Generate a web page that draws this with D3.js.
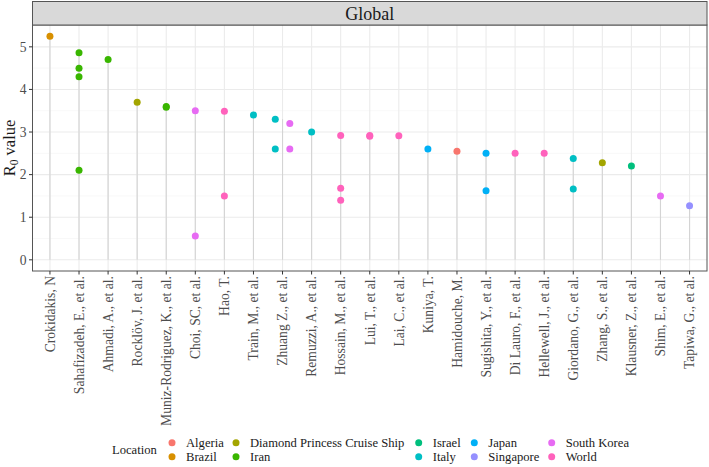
<!DOCTYPE html>
<html><head><meta charset="utf-8">
<script src="https://cdn.jsdelivr.net/npm/d3@7"></script>
<style>body{margin:0;background:#fff} text{font-family:'Liberation Serif','Times New Roman',Times,serif}</style>
</head><body><svg id="c" width="709" height="467"></svg>
<script>
const authors = ["Crokidakis, N","Sahafizadeh, E., et al.","Ahmadi, A., et al.","Rocklöv, J. et al.","Muniz-Rodriguez, K., et al.","Choi, SC, et al.","Hao, T.","Train, M., et al.","Zhuang Z., et al.","Remuzzi, A., et al.","Hossain, M., et al.","Lui, T., et al.","Lai, C., et al.","Kuniya, T.","Hamidouche, M.","Sugishita, Y., et al.","Di Lauro, F., et al.","Hellewell, J., et al.","Giordano, G., et al.","Zhang, S., et al.","Klausner, Z., et al.","Shim, E., et al.","Tapiwa, G., et al."];
const locations = ["Algeria","Brazil","Diamond Princess Cruise Ship","Iran","Israel","Italy","Japan","Singapore","South Korea","World"];
const locationColors = ["#F8766D","#D89000","#A3A500","#39B600","#00BF7D","#00BFC4","#00B0F6","#9590FF","#E76BF3","#FF62BC"];
const ptAuthor = [0,1,1,1,1,2,3,4,4,5,5,6,6,7,8,8,8,8,9,10,10,10,11,11,12,13,14,15,15,16,17,18,18,19,20,21,22];
const ptLocation = ["Brazil","Iran","Iran","Iran","Iran","Iran","Diamond Princess Cruise Ship","Iran","Iran","South Korea","South Korea","World","World","Italy","Italy","Italy","South Korea","South Korea","Italy","World","World","World","World","World","World","Japan","Algeria","Japan","Japan","World","World","Italy","Italy","Diamond Princess Cruise Ship","Israel","South Korea","Singapore"];
const ptValue = [5.25,4.86,4.5,4.3,2.1,4.7,3.7,3.6,3.58,3.5,0.56,3.49,1.5,3.4,3.3,2.6,3.2,2.6,3.0,2.92,1.68,1.4,2.92,2.9,2.91,2.6,2.55,2.5,1.62,2.5,2.5,2.38,1.66,2.28,2.2,1.5,1.27];
const yTicks = [0,1,2,3,4,5];
const yMinor = [0.5,1.5,2.5,3.5,4.5];
const stripLabel = "Global";
const legendTitle = "Location";

const FF = "'Liberation Serif','Times New Roman',Times,serif";
const svg = d3.select("#c");
const P = {l:32.5, r:707, t:25, b:271, stripTop:1.5};
const x = d3.scalePoint().domain(authors).range([P.l,P.r]).padding(0.6);
const yMax = d3.max(ptValue);
const ext = yMax*0.05;
const y = d3.scaleLinear().domain([-ext, yMax+ext]).range([P.b,P.t]);
const color = d3.scaleOrdinal().domain(locations).range(locationColors);
const step = x.step();

svg.append("rect").attr("x",P.l).attr("y",P.t).attr("width",P.r-P.l).attr("height",P.b-P.t).attr("fill","#fff");
const g = svg.append("g");
g.selectAll(".mn").data(yMinor).join("line").attr("x1",P.l).attr("x2",P.r)
 .attr("y1",d=>y(d)).attr("y2",d=>y(d)).attr("stroke","#F3F3F3").attr("stroke-width",0.6);
g.selectAll(".mj").data(yTicks).join("line").attr("x1",P.l).attr("x2",P.r)
 .attr("y1",d=>y(d)).attr("y2",d=>y(d)).attr("stroke","#EBEBEB").attr("stroke-width",1.1);
g.selectAll(".vx").data(authors).join("line").attr("x1",d=>x(d)).attr("x2",d=>x(d))
 .attr("y1",P.t).attr("y2",P.b).attr("stroke","#EBEBEB").attr("stroke-width",1.1);

const pts = ptValue.map((v,i)=>({a:authors[ptAuthor[i]], loc:ptLocation[i], v}));
const byAuthor = d3.group(pts, d=>d.a);
const segs = authors.map(a=>({a, v:d3.max(byAuthor.get(a), d=>d.v)}));
svg.append("g").selectAll("line").data(segs).join("line")
 .attr("x1",d=>x(d.a)).attr("x2",d=>x(d.a)).attr("y1",y(0)).attr("y2",d=>y(d.v))
 .attr("stroke","#D4D4D4").attr("stroke-width",1.1);

pts.forEach(p=>{
  const locs = Array.from(new Set(byAuthor.get(p.a).map(d=>d.loc))).sort((a,b)=>locations.indexOf(a)-locations.indexOf(b));
  const n = locs.length, i = locs.indexOf(p.loc);
  p.dx = n>1 ? (-0.5 + (i+0.5)/n)*step : 0;
});
svg.append("g").selectAll("circle").data(pts).join("circle")
 .attr("cx",d=>x(d.a)+d.dx).attr("cy",d=>y(d.v)).attr("r",3.5).attr("fill",d=>color(d.loc));

svg.append("rect").attr("x",P.l).attr("y",P.t).attr("width",P.r-P.l).attr("height",P.b-P.t)
 .attr("fill","none").attr("stroke","#555").attr("stroke-width",1);
svg.append("rect").attr("x",P.l).attr("y",P.stripTop).attr("width",P.r-P.l).attr("height",P.t-P.stripTop)
 .attr("fill","#D9D9D9").attr("stroke","#555").attr("stroke-width",1);
svg.append("text").attr("x",(P.l+P.r)/2).attr("y",(P.stripTop+P.t)/2).attr("dy","0.35em")
 .attr("font-family",FF).attr("text-anchor","middle").attr("font-size",18).attr("fill","#1A1A1A").text(stripLabel);

const ya = svg.append("g");
ya.selectAll("line").data(yTicks).join("line").attr("x1",P.l-3.5).attr("x2",P.l)
 .attr("y1",d=>y(d)).attr("y2",d=>y(d)).attr("stroke","#333").attr("stroke-width",1);
ya.selectAll("text").data(yTicks).join("text").attr("x",P.l-6).attr("y",d=>y(d)).attr("dy","0.35em")
 .attr("font-family",FF).attr("text-anchor","end").attr("font-size",13.6).attr("fill","#4D4D4D").text(d=>d);
const yt = svg.append("text").attr("transform",`translate(15,${(P.t+P.b)/2}) rotate(-90)`)
 .attr("font-family",FF).attr("text-anchor","middle").attr("font-size",16.5).attr("fill","#1A1A1A");
yt.append("tspan").text("R");
yt.append("tspan").attr("font-size",11.5).attr("dy",3).text("0");
yt.append("tspan").attr("dy",-3).text(" value");

const xa = svg.append("g");
xa.selectAll("line").data(authors).join("line").attr("x1",d=>x(d)).attr("x2",d=>x(d))
 .attr("y1",P.b).attr("y2",P.b+3.5).attr("stroke","#333").attr("stroke-width",1);
xa.selectAll("text").data(authors).join("text")
 .attr("transform",d=>`translate(${x(d)},${P.b+5}) rotate(-90)`).attr("dy","0.35em")
 .attr("font-family",FF).attr("text-anchor","end").attr("font-size",13.6).attr("fill","#4D4D4D").text(d=>d);

const lg = svg.append("g");
const rowY = [442.7, 456.7];
const colKeyX = [172, 236, 418.7, 474.3, 551.7];
lg.append("text").attr("x",112).attr("y",(rowY[0]+rowY[1])/2).attr("dy","0.35em")
 .attr("font-family",FF).attr("font-size",12.6).attr("fill","#1A1A1A").text(legendTitle);
locations.forEach((loc,i)=>{
  const c = Math.floor(i/2), r = i%2;
  lg.append("circle").attr("cx",colKeyX[c]).attr("cy",rowY[r]).attr("r",3.5).attr("fill",color(loc));
  lg.append("text").attr("x",colKeyX[c]+14).attr("y",rowY[r]).attr("dy","0.35em")
   .attr("font-family",FF).attr("font-size",12.6).attr("fill","#1A1A1A").text(loc);
});
</script></body></html>
